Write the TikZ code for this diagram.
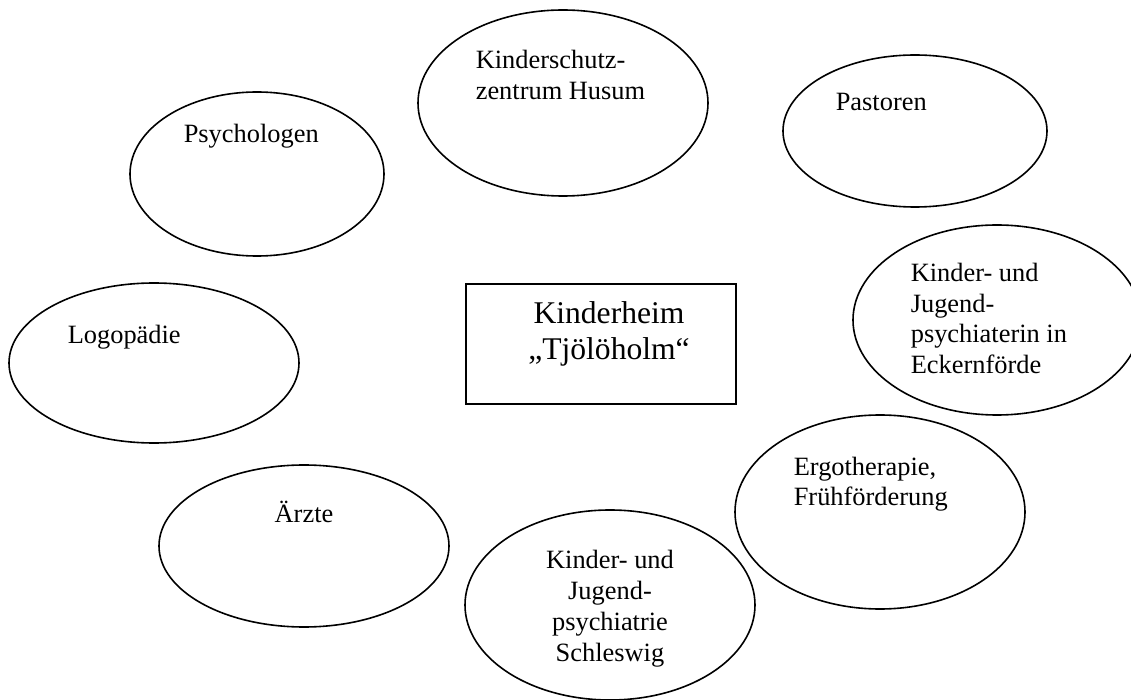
\documentclass[tikz,border=0pt]{standalone}
\usepackage{fontspec}
\setmainfont{Liberation Serif}
\usetikzlibrary{shapes.geometric}

\begin{document}
\begin{tikzpicture}[x=0.5pt, y=-0.5pt, line width=0.8pt,
		partner/.style={draw, ellipse, inner sep=0pt, outer sep=0pt},
		partnertext/.style={anchor=base west, align=left, inner sep=0pt, font=\fontsize{13.2}{15.5}\selectfont},
		centertext/.style={anchor=base, align=center, inner sep=0pt, font=\fontsize{13.2}{15.5}\selectfont}]
		\useasboundingbox (0,0) rectangle (1131,700);
		\clip (0,0) rectangle (1131,700);
		
		% home in the middle
		\node[draw, inner sep=0pt, minimum width=135pt, minimum height=60pt] (heim) at (601,344) {};
		\node[anchor=base, align=center, inner sep=0pt, font=\fontsize{15.8}{18}\selectfont] (heimtext) at (609,360) {Kinderheim\\„Tjölöholm“};
		
		% upper row
		\node[partner, minimum width=127pt, minimum height=82pt] (psy) at (257,174) {};
		\node[partnertext] (psytext) at (183,143) {Psychologen};
		
		\node[partner, minimum width=145pt, minimum height=93pt] (ksz) at (563,103) {};
		\node[partnertext] (ksztext) at (475,100) {Kinderschutz-\\zentrum Husum};
		
		\node[partner, minimum width=132pt, minimum height=76pt] (pas) at (915,131) {};
		\node[partnertext] (pastext) at (835,111) {Pastoren};
		
		% left side
		\node[partner, minimum width=145pt, minimum height=80pt] (logo) at (154,363) {};
		\node[partnertext] (logotext) at (67,344) {Logopädie};
		
		\node[partner, minimum width=145pt, minimum height=81pt] (arzt) at (304,546) {};
		\node[centertext] (arzttext) at (304,523) {Ärzte};
		
		% right side
		\node[partner, minimum width=144pt, minimum height=95pt] (kjpe) at (997,320) {};
		\node[partnertext] (kjpetext) at (910,374) {Kinder- und\\Jugend-\\psychiaterin in\\Eckernförde};
		
		\node[partner, minimum width=145pt, minimum height=97pt] (ergo) at (880,512) {};
		\node[partnertext] (ergotext) at (793,506) {Ergotherapie,\\Frühförderung};
		
		% bottom
		\node[partner, minimum width=145pt, minimum height=95pt] (kjps) at (610,605) {};
		\node[centertext] (kjpstext) at (610,661) {Kinder- und\\Jugend-\\psychiatrie\\Schleswig};
\end{tikzpicture}
\end{document}
